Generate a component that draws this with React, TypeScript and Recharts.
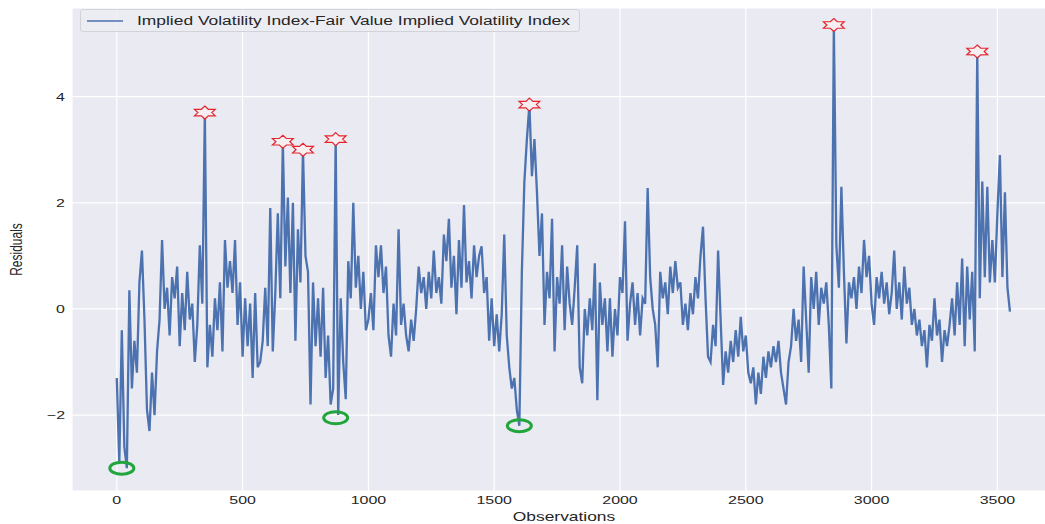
import { CartesianGrid, ComposedChart, Line, Scatter, XAxis, YAxis } from "recharts";

// one reading every 10 observations
const OBS_STEP = 10;

const residuals0 = [
  -1.3, -2.9, -0.4, -2.6, -3.0, 0.35, -1.5, -0.6, -1.2, 0.5,
  1.1, -0.2, -1.9, -2.3, -1.2, -2.0, -0.8, -0.2, 1.3, 0.0,
  0.4, -0.5, 0.6, 0.2, 0.8, -0.7, 0.3, -0.4, 0.7, -0.2,
  0.1, -1.0, -0.3, 1.2, 0.1, 3.7, -1.1, -0.3, -0.9, 0.2,
  -0.4, 0.5, -0.8, 1.3, 0.4, 0.9, 0.3, 1.3, -0.3, 0.5,
  -0.9, 0.2, -0.7, 0.1, -1.3, 0.3, -1.1, -1.0, -0.6, 0.4,
  -0.7, 1.9, -0.8, 0.3, 1.8, 0.2, 3.15, 0.8, 2.1, 0.3,
  2.0, -0.6, 1.5, 0.5, 3.0, 1.0, 0.7, -1.8, 0.5, -0.7,
  0.2, -0.9, 0.4, -1.3, -0.5, -1.8, -1.5, 3.2, -2.0, 0.2,
  -1.0, -1.7, 0.9, 0.2, 2.0, 0.4, 1.0, 0.0, 0.7, -0.4,
];

const residuals1000 = [
  -0.2, 0.3, -0.4, 1.2, 0.6, 1.2, 0.3, 0.8, -0.5, -0.9,
  0.1, -0.5, 1.5, -0.3, 0.1, -0.5, -0.8, -0.2, -0.6, 0.0,
  0.8, 0.3, 0.6, 0.0, 0.7, 0.2, 1.1, 0.3, 0.6, 0.1,
  1.4, 0.9, 1.7, 0.4, 1.0, -0.1, 1.3, 0.4, 1.96, 0.5,
  0.9, 0.2, 1.2, 0.6, 1.0, 1.18, 0.3, 0.6, -0.6, 0.2,
  -0.7, -0.1, -0.8, -0.1, 1.4, -0.5, -1.1, -1.5, -1.3, -1.9,
  -2.2, 0.7, 2.4, 3.2, 3.85, 2.5, 3.2, 2.2, 1.0, 1.8,
  -0.3, 0.7, 0.2, 1.7, -0.8, 0.6, 0.1, 1.2, -0.4, 0.8,
  0.1, -0.3, 0.4, 1.2, -1.1, -1.4, 0.0, -0.5, 0.2, -0.4,
  0.86, -1.72, 0.5, -0.3, 0.2, -0.8, 0.2, -0.9, 0.0, -0.5,
];

const residuals2000 = [
  0.6, 0.3, 1.65, -0.6, 0.1, 0.5, -0.3, 0.3, -0.5, 0.2,
  0.1, 2.28, 0.6, 0.0, -0.3, -1.1, 0.7, 0.2, 0.5, -0.1,
  0.8, 0.3, 0.9, 0.4, 0.5, -0.3, 0.1, -0.4, 0.3, -0.1,
  0.6, 0.2, 1.0, 1.55, 0.2, -0.9, -1.0, -0.3, -0.7, 1.1,
  -0.2, -1.43, -0.8, -1.2, -0.6, -1.0, -0.4, -0.9, -0.15, -0.8,
  -0.5, -1.2, -1.4, -1.1, -1.8, -1.2, -1.6, -0.9, -1.3, -0.8,
  -1.1, -0.7, -1.0, -0.6, -1.2, -1.5, -1.8, -1.0, -0.7, 0.0,
  -0.6, -0.2, -1.0, 0.8, -0.2, -1.2, 0.6, 0.0, 0.7, -0.3,
  0.4, 0.1, 0.5, -0.3, -1.5, 5.35, 1.2, 0.4, 2.3, 0.7,
  -0.65, 0.5, 0.2, 0.6, 0.0, 0.8, 0.3, 1.3, 0.6, 1.0,
];

const residuals3000 = [
  0.1, -0.3, 0.6, 0.2, 0.7, 0.1, 0.5, -0.1, 0.3, 1.1,
  0.0, 0.5, -0.2, 0.8, 0.1, 0.4, -0.3, 0.0, -0.5, -0.2,
  -0.7, -0.4, -1.1, -0.3, -0.6, 0.2, -0.5, -0.2, -1.0, -0.4,
  -0.7, -0.3, 0.2, -0.5, 0.5, -0.3, 0.95, -0.7, 0.8, -0.2,
  0.7, -0.8, 4.85, 0.2, 2.4, 0.6, 2.3, 0.5, 1.3, 0.5,
  1.8, 2.9, 0.6, 2.2, 0.4, -0.05,
];

const residuals = [...residuals0, ...residuals1000, ...residuals2000, ...residuals3000];

// red stars on the spikes, green rings on the dips
const peakObs = [350, 660, 740, 870, 1640, 2850, 3420];
const peakValues = [3.7, 3.15, 3.0, 3.2, 3.85, 5.35, 4.85];
const troughObs = [20, 870, 1600];
const troughValues = [-3.0, -2.05, -2.2];

const xTicks = [0, 500, 1000, 1500, 2000, 2500, 3000, 3500];
const yTicks = [-2, 0, 2, 4];

const SERIES_NAME = "Implied Volatility Index-Fair Value Implied Volatility Index";

// the source picture is stretched sideways, so text is widened to match
const STRETCH = 1.45;
const FONT = "'Liberation Sans', Arial, sans-serif";
const TEXT = "#262626";
const BLUE = "#4C72B0";

const chartData = residuals.map((v, i) => ({ obs: i * OBS_STEP, residual: v }));
const peakPoints = peakObs.map((o, i) => ({ obs: o, value: peakValues[i] }));
const troughPoints = troughObs.map((o, i) => ({ obs: o, value: troughValues[i] }));

function XTick({ x, y, payload }: any) {
  return (
    <text
      transform={`translate(${x},${y + 13}) scale(${STRETCH},1)`}
      textAnchor="middle"
      fontSize={11}
      fontFamily={FONT}
      fill={TEXT}
    >
      {payload.value}
    </text>
  );
}

function YTick({ x, y, payload }: any) {
  const v = payload.value;
  return (
    <text
      transform={`translate(${x - 7},${y + 4}) scale(${STRETCH},1)`}
      textAnchor="end"
      fontSize={11}
      fontFamily={FONT}
      fill={TEXT}
    >
      {v < 0 ? `\u2212${-v}` : v}
    </text>
  );
}

function XLabel({ viewBox }: any) {
  const cx = viewBox.x + viewBox.width / 2;
  return (
    <text
      transform={`translate(${cx},${viewBox.y + 30}) scale(${STRETCH},1)`}
      textAnchor="middle"
      fontSize={12}
      fontFamily={FONT}
      fill={TEXT}
    >
      Observations
    </text>
  );
}

function YLabel({ viewBox }: any) {
  const cy = viewBox.y + viewBox.height / 2;
  return (
    <text
      transform={`translate(22,${cy}) scale(${STRETCH},1) rotate(-90)`}
      textAnchor="middle"
      fontSize={12}
      fontFamily={FONT}
      fill={TEXT}
    >
      Residuals
    </text>
  );
}

function StarMarker({ cx, cy }: any) {
  if (cx == null || cy == null) return null;
  const pts: string[] = [];
  for (let k = 0; k < 12; k++) {
    const a = (Math.PI / 6) * k - Math.PI / 2;
    const r = k % 2 === 0 ? 1 : 0.58;
    pts.push(`${cx + Math.cos(a) * r * 12},${cy + Math.sin(a) * r * 6.5}`);
  }
  return <polygon points={pts.join(" ")} fill="#f7eef2" stroke="#e3262e" strokeWidth={1.2} />;
}

function RingMarker({ cx, cy }: any) {
  if (cx == null || cy == null) return null;
  return <ellipse cx={cx} cy={cy} rx={12} ry={6} fill="none" stroke="#22a53c" strokeWidth={3} />;
}

function LegendBox() {
  return (
    <div
      style={{
        position: "absolute",
        left: 80,
        top: 9,
        display: "flex",
        alignItems: "center",
        boxSizing: "border-box",
        width: 500,
        height: 23,
        border: "1px solid #d2d2da",
        borderRadius: 3,
        background: "rgba(236,236,243,0.85)",
        fontFamily: FONT,
        fontSize: 12,
        color: TEXT,
      }}
    >
      <svg width={50} height={6} style={{ marginLeft: 6 }}>
        <line x1={0} y1={3} x2={36} y2={3} stroke={BLUE} strokeWidth={1.5} />
      </svg>
      <span style={{ display: "inline-block", transform: `scaleX(${STRETCH})`, transformOrigin: "left center", whiteSpace: "nowrap" }}>
        {SERIES_NAME}
      </span>
    </div>
  );
}

export default function App() {
  return (
    <div style={{ position: "absolute", left: 0, top: 0, width: 1045, height: 524, overflow: "hidden", background: "#fff" }}>
      <ComposedChart width={1060} height={524} data={chartData} margin={{ top: 8, right: 4, bottom: 0, left: 0 }}>
        <CartesianGrid fill="#EAEAF2" stroke="#FFFFFF" strokeWidth={1.2} />
        <XAxis
          type="number"
          dataKey="obs"
          domain={[-178, 3733]}
          ticks={xTicks}
          allowDataOverflow
          axisLine={false}
          tickLine={false}
          tickSize={0}
          tickMargin={0}
          height={33}
          tick={<XTick />}
          label={<XLabel />}
        />
        <YAxis
          type="number"
          domain={[-3.43, 5.67]}
          ticks={yTicks}
          allowDataOverflow
          axisLine={false}
          tickLine={false}
          tickSize={0}
          tickMargin={0}
          width={72}
          tick={<YTick />}
          label={<YLabel />}
        />
        <Line
          dataKey="residual"
          type="linear"
          stroke={BLUE}
          strokeWidth={2.3}
          dot={false}
          isAnimationActive={false}
        />
        <Scatter data={peakPoints} dataKey="value" shape={StarMarker} isAnimationActive={false} />
        <Scatter data={troughPoints} dataKey="value" shape={RingMarker} isAnimationActive={false} />
      </ComposedChart>
      <LegendBox />
    </div>
  );
}
